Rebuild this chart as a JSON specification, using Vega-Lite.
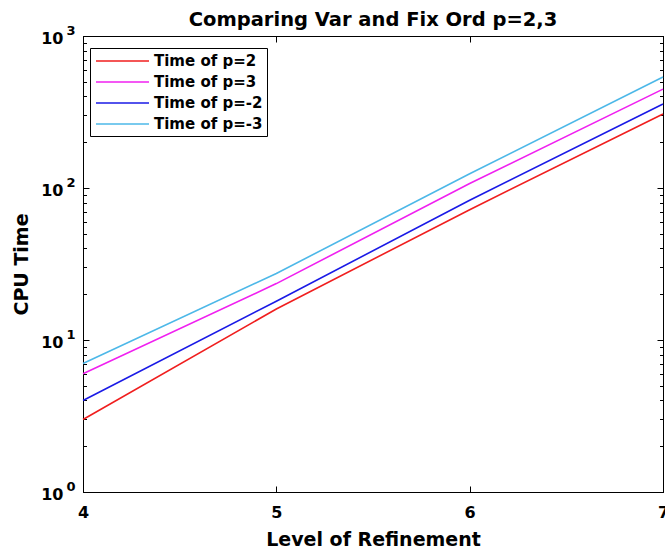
{
  "$schema": "https://vega.github.io/schema/vega-lite/v6.json",
  "width": 580,
  "height": 456,
  "autosize": "none",
  "padding": {"left": 83, "top": 36, "right": 2, "bottom": 60},
  "background": "white",
  "config": {
    "font": "DejaVu Sans",
    "view": {"stroke": "black", "strokeWidth": 1},
    "axis": {
      "grid": false,
      "domainColor": "black",
      "tickColor": "black",
      "tickWidth": 1,
      "labelColor": "black",
      "labelFont": "DejaVu Sans",
      "labelFontWeight": "bold",
      "labelFontSize": 16,
      "titleColor": "black",
      "titleFont": "DejaVu Sans",
      "titleFontWeight": "bold",
      "titleFontSize": 19,
      "labelFlush": false
    }
  },
  "title": {
    "text": "Comparing Var and Fix Ord p=2,3",
    "font": "DejaVu Sans",
    "fontSize": 19.5,
    "fontWeight": "bold",
    "color": "black",
    "anchor": "middle",
    "baseline": "alphabetic",
    "offset": 9,
    "dy": 30
  },
  "data": {
    "values": [
      {"level": 4, "series": "Time of p=2", "time": 3},
      {"level": 5, "series": "Time of p=2", "time": 16},
      {"level": 6, "series": "Time of p=2", "time": 72},
      {"level": 7, "series": "Time of p=2", "time": 307},
      {"level": 4, "series": "Time of p=3", "time": 6},
      {"level": 5, "series": "Time of p=3", "time": 23.5},
      {"level": 6, "series": "Time of p=3", "time": 107},
      {"level": 7, "series": "Time of p=3", "time": 447},
      {"level": 4, "series": "Time of p=-2", "time": 4},
      {"level": 5, "series": "Time of p=-2", "time": 18},
      {"level": 6, "series": "Time of p=-2", "time": 83},
      {"level": 7, "series": "Time of p=-2", "time": 357},
      {"level": 4, "series": "Time of p=-3", "time": 7},
      {"level": 5, "series": "Time of p=-3", "time": 27.4},
      {"level": 6, "series": "Time of p=-3", "time": 124},
      {"level": 7, "series": "Time of p=-3", "time": 538}
    ]
  },
  "encoding": {
    "color": {
      "field": "series",
      "type": "nominal",
      "scale": {
        "domain": ["Time of p=2", "Time of p=3", "Time of p=-2", "Time of p=-3"],
        "range": ["#f01e1e", "#f020f0", "#1a1ae6", "#4db8e8"]
      },
      "legend": {
        "orient": "none",
        "legendX": 7,
        "legendY": 12,
        "title": null,
        "strokeColor": "black",
        "fillColor": "white",
        "padding": 4,
        "symbolType": "M-0.875,0H5.75",
        "symbolSize": 256,
        "symbolStrokeWidth": 1.6,
        "labelFont": "DejaVu Sans",
        "labelFontSize": 15,
        "labelFontWeight": "bold",
        "labelColor": "black",
        "labelOffset": 42,
        "rowPadding": 4
      }
    }
  },
  "layer": [
    {
      "transform": [{"filter": "datum.series == 'Time of p=2'"}],
      "mark": {"type": "line", "strokeWidth": 1.6},
      "encoding": {
        "x": {
          "field": "level",
          "type": "quantitative",
          "scale": {"domain": [4, 7], "nice": false, "zero": false},
          "axis": {
            "orient": "bottom",
            "values": [4, 5, 6, 7],
            "format": "d",
            "tickSize": -6,
            "labelPadding": 18,
            "title": "Level of Refinement",
            "titlePadding": 10
          }
        },
        "y": {
          "field": "time",
          "type": "quantitative",
          "scale": {"type": "log", "domain": [1, 1000], "nice": false},
          "axis": {
            "orient": "left",
            "values": [1, 2, 3, 4, 5, 6, 7, 8, 9, 10, 20, 30, 40, 50, 60, 70, 80, 90, 100, 200, 300, 400, 500, 600, 700, 800, 900, 1000],
            "labelExpr": "indexof([1, 10, 100, 1000], datum.value) >= 0 ? '10' : ''",
            "tickSize": {"condition": {"test": "indexof([1, 10, 100, 1000], datum.value) >= 0", "value": -6}, "value": -3.5},
            "labelPadding": 26,
            "labelOffset": 2,
            "title": "CPU Time",
            "titlePadding": 9
          }
        }
      }
    },
    {
      "transform": [{"filter": "datum.series == 'Time of p=3'"}],
      "mark": {"type": "line", "strokeWidth": 1.6},
      "encoding": {
        "x": {
          "field": "level",
          "type": "quantitative",
          "scale": {"domain": [4, 7], "nice": false, "zero": false},
          "axis": {
            "orient": "top",
            "values": [4, 5, 6, 7],
            "labels": false,
            "tickSize": -6,
            "title": null
          }
        },
        "y": {
          "field": "time",
          "type": "quantitative",
          "scale": {"type": "log", "domain": [1, 1000], "nice": false},
          "axis": {
            "orient": "left",
            "values": [1, 10, 100, 1000],
            "labelExpr": "format(log(datum.value) / LN10, '.0f')",
            "labelFontSize": 13,
            "ticks": false,
            "domain": false,
            "labelPadding": 8,
            "labelOffset": -6,
            "title": null
          }
        }
      }
    },
    {
      "transform": [{"filter": "datum.series == 'Time of p=-2' || datum.series == 'Time of p=-3'"}],
      "mark": {"type": "line", "strokeWidth": 1.6},
      "encoding": {
        "x": {
          "field": "level",
          "type": "quantitative",
          "scale": {"domain": [4, 7], "nice": false, "zero": false},
          "axis": null
        },
        "y": {
          "field": "time",
          "type": "quantitative",
          "scale": {"type": "log", "domain": [1, 1000], "nice": false},
          "axis": {
            "orient": "right",
            "values": [1, 2, 3, 4, 5, 6, 7, 8, 9, 10, 20, 30, 40, 50, 60, 70, 80, 90, 100, 200, 300, 400, 500, 600, 700, 800, 900, 1000],
            "labels": false,
            "tickSize": {"condition": {"test": "indexof([1, 10, 100, 1000], datum.value) >= 0", "value": -6}, "value": -3.5},
            "title": null
          }
        }
      }
    }
  ],
  "resolve": {"axis": {"x": "independent", "y": "independent"}}
}
